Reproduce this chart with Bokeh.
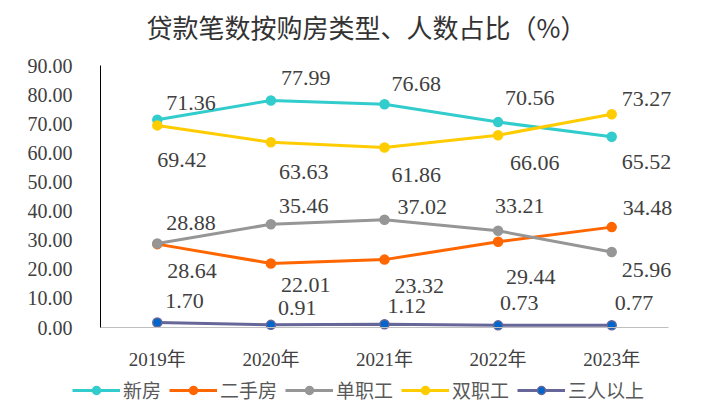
from bokeh.plotting import figure
from bokeh.models import (ColumnDataSource, Range1d, FixedTicker, Label,
                          NumeralTickFormatter, LabelSet, Legend, LegendItem)
from bokeh.embed import file_html
from bokeh.resources import INLINE
from bokeh.core.properties import value

# ---------------- data ----------------
years = ["2019年", "2020年", "2021年", "2022年", "2023年"]
series_names = ["新房", "二手房", "单职工", "双职工", "三人以上"]
new_house = [71.36, 77.99, 76.68, 70.56, 65.52]
second_hand = [28.64, 22.01, 23.32, 29.44, 34.48]
single_earner = [28.88, 35.46, 37.02, 33.21, 25.96]
dual_earner = [69.42, 63.63, 61.86, 66.06, 73.27]
three_plus = [1.70, 0.91, 1.12, 0.73, 0.77]
y_ticks = [0, 10, 20, 30, 40, 50, 60, 70, 80, 90]
y_max = 90
title_text = "贷款笔数按购房类型、人数占比（%）"

# ---------------- styles / layout ----------------
line_colors = ["#33CCCC", "#FF6600", "#969696", "#FFCC00", "#666699"]
marker_fills = ["#33CCCC", "#FF6600", "#969696", "#FFCC00", "#0066CC"]
# label offsets in pixels (dx right, dy down)
label_dx = [[9, 10, 7, 7, 10],
            [10, 10, 10, 8, 11],
            [9, 8, 13, -3, 10],
            [0, 8, 7, 12, 10],
            [8, 7, 3, 2, 3]]
label_dy = [[-17, -22, -20, -24, 25],
            [27, 22, 26, 35, -19],
            [-20, -18, -13, -25, 18],
            [35, 30, 28, 28, -15],
            [-22, -17, -18, -22, -22]]

NUM_FONT = "'Liberation Serif', 'Noto Sans CJK SC'"
CJK_FONT = "'Noto Sans CJK SC'"
TEXT_COLOR = "#404040"

# canvas / plot-area geometry in pixels (from top-left)
W, H = 717, 406
AXIS_X = 100          # y axis line
PLOT_R = 668          # end of category area
PLOT_T, PLOT_B = 65, 327
n = len(years)
x_idx = list(range(n))
cat_px = (PLOT_R - AXIS_X) / n
unit_px = (PLOT_B - PLOT_T) / y_max
x_start = -0.5 - AXIS_X / cat_px
x_end = -0.5 + (W - AXIS_X) / cat_px
y_start = -(H - PLOT_B) / unit_px
y_end = y_max + PLOT_T / unit_px

series_values = [new_house, second_hand, single_earner, dual_earner, three_plus]

p = figure(width=W, height=H,
           x_range=Range1d(x_start, x_end),
           y_range=Range1d(y_start, y_end),
           output_backend="svg", toolbar_location=None,
           min_border=0, min_border_left=0, min_border_right=0,
           min_border_top=0, min_border_bottom=0)

p.xgrid.visible = False
p.ygrid.visible = False
p.outline_line_color = None
p.background_fill_color = "white"
p.border_fill_color = "white"

yax = p.yaxis[0]
yax.fixed_location = -0.5
yax.bounds = (0, y_max)
yax.ticker = FixedTicker(ticks=y_ticks)
yax.formatter = NumeralTickFormatter(format="0.00")
yax.axis_line_color = "black"
yax.axis_line_width = 1
yax.major_tick_line_color = None
yax.minor_tick_line_color = None
yax.major_tick_out = 0
yax.major_tick_in = 0
yax.major_label_standoff = 28
yax.major_label_text_font = NUM_FONT
yax.major_label_text_font_size = "20px"
yax.major_label_text_color = TEXT_COLOR

xax = p.xaxis[0]
xax.fixed_location = 0
xax.bounds = (-0.5, n - 0.5)
xax.ticker = FixedTicker(ticks=x_idx)
xax.major_label_overrides = {i: y for i, y in zip(x_idx, years)}
xax.axis_line_color = "#BFBFBF"
xax.axis_line_width = 1
xax.major_tick_line_color = None
xax.minor_tick_line_color = None
xax.major_tick_out = 0
xax.major_tick_in = 0
xax.major_label_standoff = 21
xax.major_label_text_font = NUM_FONT
xax.major_label_text_font_size = "19px"
xax.major_label_text_color = TEXT_COLOR

p.add_layout(Label(x=366, y=H - 26, x_units="screen", y_units="screen",
                   text=title_text, text_align="center", text_baseline="middle",
                   text_font=CJK_FONT, text_font_size="26px",
                   text_color="#333333"))

items = []
for i, name in enumerate(series_names):
    vals = series_values[i]
    src = ColumnDataSource(dict(
        x=x_idx, y=vals,
        txt=["%.2f" % v for v in vals],
        dx=label_dx[i],
        dy=[-d for d in label_dy[i]],
    ))
    lr = p.line("x", "y", source=src, line_color=line_colors[i], line_width=3)
    sr = p.scatter("x", "y", source=src, size=9, marker="circle",
                   fill_color=marker_fills[i], line_color=line_colors[i],
                   line_width=1.5)
    p.add_layout(LabelSet(x="x", y="y", text="txt", source=src,
                          x_offset="dx", y_offset="dy",
                          text_align="left", text_baseline="middle",
                          text_font=value("Liberation Serif"),
                          text_font_size="22px", text_color=TEXT_COLOR))
    items.append(LegendItem(label=name, renderers=[lr, sr]))

legend = Legend(items=items, orientation="horizontal", location=(72, 3),
                glyph_width=48, glyph_height=20, label_standoff=3, spacing=8,
                padding=0, margin=0, border_line_color=None,
                background_fill_alpha=0,
                label_text_font=CJK_FONT, label_text_font_size="19px",
                label_text_color="#595959")
p.add_layout(legend)

open("out.html", "w").write(file_html(p, INLINE))
